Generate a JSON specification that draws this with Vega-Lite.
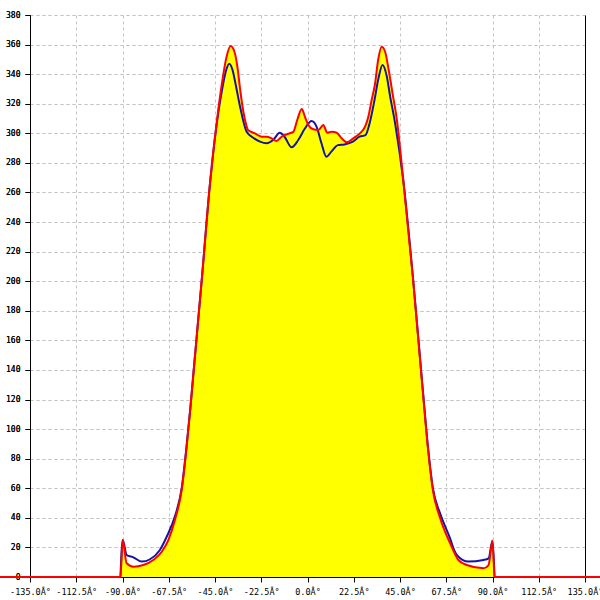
{
  "$schema": "https://vega.github.io/schema/vega-lite/v6.json",
  "width": 555,
  "height": 562,
  "padding": {"left": 30, "top": 15, "right": 15, "bottom": 23},
  "autosize": {"type": "none"},
  "background": "white",
  "config": {
    "view": {"stroke": null},
    "axis": {
      "labelFont": "DejaVu Sans Mono",
      "labelColor": "black",
      "domainColor": "black",
      "tickColor": "black",
      "gridColor": "#c4c4c4",
      "gridDash": [3, 3],
      "gridWidth": 1,
      "title": null
    }
  },
  "data": {
    "values": [
      {"s": "red", "a": -150, "v": 0}, {"s": "red", "a": -91, "v": 0}, {"s": "red", "a": -89.9, "v": 25},
      {"s": "red", "a": -88.0, "v": 9.3}, {"s": "red", "a": -84.7, "v": 7}, {"s": "red", "a": -79.9, "v": 8.1},
      {"s": "red", "a": -75.0, "v": 11.5}, {"s": "red", "a": -70.9, "v": 17.1}, {"s": "red", "a": -67.7, "v": 25},
      {"s": "red", "a": -64.5, "v": 38.5}, {"s": "red", "a": -61.2, "v": 59}, {"s": "red", "a": -58.8, "v": 88},
      {"s": "red", "a": -57.0, "v": 114}, {"s": "red", "a": -55.6, "v": 136}, {"s": "red", "a": -51.5, "v": 200},
      {"s": "red", "a": -47.3, "v": 268}, {"s": "red", "a": -43.4, "v": 316}, {"s": "red", "a": -41.5, "v": 335},
      {"s": "red", "a": -39.5, "v": 351}, {"s": "red", "a": -37.4, "v": 359}, {"s": "red", "a": -35.5, "v": 355},
      {"s": "red", "a": -34.0, "v": 344}, {"s": "red", "a": -32.8, "v": 330}, {"s": "red", "a": -31.6, "v": 318},
      {"s": "red", "a": -30.4, "v": 309}, {"s": "red", "a": -28.8, "v": 302}, {"s": "red", "a": -25.6, "v": 300},
      {"s": "red", "a": -22.3, "v": 297.7}, {"s": "red", "a": -19.9, "v": 297.7}, {"s": "red", "a": -17.5, "v": 296.6},
      {"s": "red", "a": -15.1, "v": 294.8}, {"s": "red", "a": -12.6, "v": 297.7}, {"s": "red", "a": -10.2, "v": 299.3},
      {"s": "red", "a": -6.9, "v": 301}, {"s": "red", "a": -5.0, "v": 309}, {"s": "red", "a": -2.8, "v": 316.4},
      {"s": "red", "a": -1.2, "v": 311}, {"s": "red", "a": 0.4, "v": 305.6}, {"s": "red", "a": 2.8, "v": 302.7},
      {"s": "red", "a": 5.3, "v": 302.2}, {"s": "red", "a": 7.7, "v": 305.6}, {"s": "red", "a": 9.6, "v": 300.4},
      {"s": "red", "a": 11.8, "v": 301.1}, {"s": "red", "a": 14.2, "v": 300.4}, {"s": "red", "a": 16.6, "v": 296.6},
      {"s": "red", "a": 19.1, "v": 293.9}, {"s": "red", "a": 22.3, "v": 296.6}, {"s": "red", "a": 25.5, "v": 300},
      {"s": "red", "a": 28.0, "v": 304.5}, {"s": "red", "a": 29.6, "v": 311.2}, {"s": "red", "a": 31.2, "v": 322.5},
      {"s": "red", "a": 32.8, "v": 333}, {"s": "red", "a": 34.4, "v": 350}, {"s": "red", "a": 36.1, "v": 358.6},
      {"s": "red", "a": 37.8, "v": 355}, {"s": "red", "a": 39.6, "v": 342}, {"s": "red", "a": 41.5, "v": 326},
      {"s": "red", "a": 43.4, "v": 310}, {"s": "red", "a": 46.6, "v": 268.4}, {"s": "red", "a": 51.4, "v": 200.8},
      {"s": "red", "a": 55.5, "v": 135}, {"s": "red", "a": 56.2, "v": 124}, {"s": "red", "a": 58.6, "v": 87},
      {"s": "red", "a": 61.0, "v": 58.8}, {"s": "red", "a": 64.5, "v": 39.9}, {"s": "red", "a": 69.4, "v": 22.8},
      {"s": "red", "a": 73.4, "v": 11.5}, {"s": "red", "a": 77.5, "v": 8.1}, {"s": "red", "a": 85.6, "v": 5.9},
      {"s": "red", "a": 88.1, "v": 8.1}, {"s": "red", "a": 90.0, "v": 24.5}, {"s": "red", "a": 91.0, "v": 0},
      {"s": "red", "a": 150, "v": 0},

      {"s": "blue", "a": -91, "v": 0}, {"s": "blue", "a": -89.9, "v": 25}, {"s": "blue", "a": -88.0, "v": 14.9},
      {"s": "blue", "a": -84.7, "v": 13.3}, {"s": "blue", "a": -80.6, "v": 10.4}, {"s": "blue", "a": -76.6, "v": 12},
      {"s": "blue", "a": -71.8, "v": 18.3}, {"s": "blue", "a": -68.5, "v": 27.2}, {"s": "blue", "a": -64.5, "v": 41},
      {"s": "blue", "a": -61.2, "v": 60}, {"s": "blue", "a": -58.8, "v": 89}, {"s": "blue", "a": -57.0, "v": 114},
      {"s": "blue", "a": -55.6, "v": 136}, {"s": "blue", "a": -51.5, "v": 200}, {"s": "blue", "a": -47.3, "v": 268},
      {"s": "blue", "a": -43.4, "v": 314}, {"s": "blue", "a": -41.5, "v": 330}, {"s": "blue", "a": -39.5, "v": 343},
      {"s": "blue", "a": -38.1, "v": 347}, {"s": "blue", "a": -36.5, "v": 343}, {"s": "blue", "a": -34.8, "v": 332},
      {"s": "blue", "a": -32.8, "v": 318}, {"s": "blue", "a": -29.6, "v": 301}, {"s": "blue", "a": -26.4, "v": 297},
      {"s": "blue", "a": -23.1, "v": 294.4}, {"s": "blue", "a": -19.9, "v": 293.3}, {"s": "blue", "a": -16.7, "v": 295.5},
      {"s": "blue", "a": -13.5, "v": 300.4}, {"s": "blue", "a": -11.2, "v": 297.7}, {"s": "blue", "a": -7.7, "v": 290.5},
      {"s": "blue", "a": -4.5, "v": 295.5}, {"s": "blue", "a": -1.2, "v": 303.4}, {"s": "blue", "a": 2.0, "v": 308.3},
      {"s": "blue", "a": 4.4, "v": 304.5}, {"s": "blue", "a": 6.8, "v": 293.3}, {"s": "blue", "a": 9.2, "v": 284.2},
      {"s": "blue", "a": 11.6, "v": 287.6}, {"s": "blue", "a": 14.8, "v": 292}, {"s": "blue", "a": 18.0, "v": 292.5},
      {"s": "blue", "a": 22.1, "v": 294.4}, {"s": "blue", "a": 25.3, "v": 297.7}, {"s": "blue", "a": 28.2, "v": 298.8},
      {"s": "blue", "a": 30.2, "v": 306.7}, {"s": "blue", "a": 32.6, "v": 322.5}, {"s": "blue", "a": 34.5, "v": 337},
      {"s": "blue", "a": 36.5, "v": 346.2}, {"s": "blue", "a": 38.5, "v": 339}, {"s": "blue", "a": 40.2, "v": 325},
      {"s": "blue", "a": 42.6, "v": 307}, {"s": "blue", "a": 46.6, "v": 268}, {"s": "blue", "a": 51.4, "v": 201},
      {"s": "blue", "a": 55.5, "v": 136}, {"s": "blue", "a": 56.2, "v": 125}, {"s": "blue", "a": 58.6, "v": 88},
      {"s": "blue", "a": 61.0, "v": 60}, {"s": "blue", "a": 64.5, "v": 43}, {"s": "blue", "a": 69.4, "v": 26},
      {"s": "blue", "a": 71.3, "v": 18.3}, {"s": "blue", "a": 72.6, "v": 15}, {"s": "blue", "a": 78.3, "v": 10.4},
      {"s": "blue", "a": 85.6, "v": 11.5}, {"s": "blue", "a": 88.1, "v": 12.6}, {"s": "blue", "a": 90.0, "v": 24.5},
      {"s": "blue", "a": 91.0, "v": 0}
    ]
  },
  "encoding": {
    "x": {
      "field": "a",
      "type": "quantitative",
      "scale": {"domain": [-135, 135], "nice": false, "zero": false},
      "axis": {
        "values": [-135, -112.5, -90, -67.5, -45, -22.5, 0, 22.5, 45, 67.5, 90, 112.5, 135],
        "labelExpr": "(datum.value < 0 ? '-' : '') + format(abs(datum.value), '.1f') + 'Â°'",
        "labelFontSize": 8.5,
        "labelOverlap": false,
        "labelBound": false,
        "labelFlush": false,
        "tickSize": 5,
        "labelPadding": 5,
        "grid": true
      }
    },
    "y": {
      "field": "v",
      "type": "quantitative",
      "scale": {"domain": [0, 380], "nice": false},
      "axis": {
        "values": [0, 20, 40, 60, 80, 100, 120, 140, 160, 180, 200, 220, 240, 260, 280, 300, 320, 340, 360, 380],
        "labelFontSize": 8,
        "labelOverlap": false,
        "labelBound": false,
        "labelFlush": false,
        "tickSize": 5,
        "labelPadding": 5,
        "grid": true
      }
    }
  },
  "layer": [
    {
      "transform": [{"filter": "datum.s === 'red'"}],
      "mark": {"type": "area", "color": "#ffff00", "interpolate": "monotone", "clip": true}
    },
    {
      "transform": [{"filter": "datum.s === 'blue'"}],
      "mark": {"type": "line", "color": "#1414a0", "strokeWidth": 2, "interpolate": "monotone"},
      "encoding": {
        "y": {
          "field": "v",
          "type": "quantitative",
          "axis": {"orient": "right", "labels": false, "ticks": false, "grid": false, "domainColor": "black"}
        }
      }
    },
    {
      "transform": [{"filter": "datum.s === 'red'"}],
      "mark": {"type": "line", "color": "#ff0000", "strokeWidth": 2, "interpolate": "monotone"}
    }
  ],
  "resolve": {"axis": {"y": "independent"}}
}
